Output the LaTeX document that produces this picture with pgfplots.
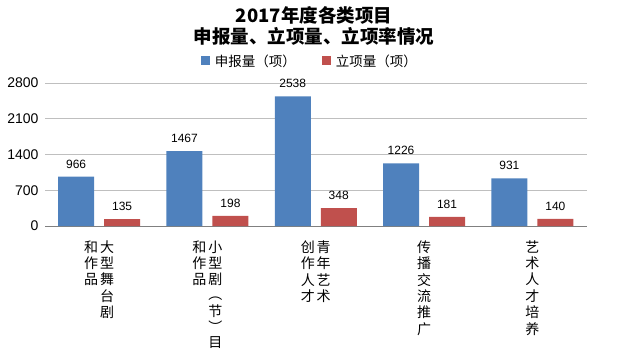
\documentclass[border=0pt]{standalone}
\usepackage{pgfplots}
\pgfplotsset{compat=1.18}
\usepackage{fontspec}
\setmainfont{Liberation Sans}
\newfontfamily\cjk{Noto Sans CJK SC}
\definecolor{cblue}{HTML}{4F81BD}
\definecolor{cred}{HTML}{C0504D}
\newcommand{\labfont}{\fontsize{14}{15.3}\selectfont\cjk}
\newcommand{\labA}{{\labfont\begin{tabular}[t]{@{}c@{\hspace{2pt}}c@{}}和&大\\作&型\\品&舞\\&台\\&剧\end{tabular}}}
\newcommand{\labB}{{\labfont\begin{tabular}[t]{@{}c@{\hspace{2pt}}c@{}}和&小\\作&型\\品&剧\\&︵\\&节\\&︶\\&目\end{tabular}}}
\newcommand{\labC}{{\labfont\begin{tabular}[t]{@{}c@{\hspace{2pt}}c@{}}创&青\\作&年\\人&艺\\才&术\end{tabular}}}
\newcommand{\labD}{{\labfont\begin{tabular}[t]{@{}c@{}}传\\播\\交\\流\\推\\广\end{tabular}}}
\newcommand{\labE}{{\labfont\begin{tabular}[t]{@{}c@{}}艺\\术\\人\\才\\培\\养\end{tabular}}}
\begin{document}
\begin{tikzpicture}
\useasboundingbox (0,0) rectangle (626pt,356pt);
\node[font=\fontsize{18.5}{21.5}\selectfont\cjk\bfseries, align=center, inner sep=0pt] at (314pt,330pt) {2017年度各类项目\\申报量、立项量、立项率情况};
\begin{axis}[
  at={(45pt,130pt)}, anchor=south west,
  scale only axis, width=541.5pt, height=143pt,
  ybar, bar width=36pt,
  xmin=-0.5, xmax=4.5, ymin=0, ymax=2800,
  ytick={0,700,1400,2100,2800},
  xtick={0,1,2,3,4},
  xticklabels={\labA,\labB,\labC,\labD,\labE},
  major tick length=0pt,
  ymajorgrids, grid style={draw=black!25, line width=0.8pt},
  axis x line*=bottom, axis y line*=left,
  y axis line style={draw=none},
  x axis line style={-, draw=black!50, line width=0.8pt},
  /pgf/number format/assume math mode=true,
  /pgf/number format/1000 sep={},
  yticklabel style={font=\fontsize{14}{14}\selectfont, xshift=-3pt},
  xticklabel style={yshift=-11pt},
  nodes near coords,
  nodes near coords style={font=\fontsize{12}{12}\selectfont, text=black, yshift=5pt},
  legend style={at={(0.489,1.154)}, anchor=center, draw=none, fill=none,
    font=\fontsize{13.5}{14}\selectfont\cjk, legend columns=2,
    /tikz/every even column/.append style={column sep=24pt}},
]
\addplot[fill=cblue, draw=none, bar shift=-23pt,
  legend image code/.code={\fill[cblue] (0pt,-4.5pt) rectangle (9pt,4.5pt); \path (12pt,0pt);}]
  coordinates {(0,966) (1,1467) (2,2538) (3,1226) (4,931)};
\addplot[fill=cred, draw=none, bar shift=23pt,
  legend image code/.code={\fill[cred] (0pt,-4.5pt) rectangle (9pt,4.5pt); \path (12pt,0pt);}]
  coordinates {(0,135) (1,198) (2,348) (3,181) (4,140)};
\legend{申报量（项）, 立项量（项）}
\end{axis}
\end{tikzpicture}
\end{document}
